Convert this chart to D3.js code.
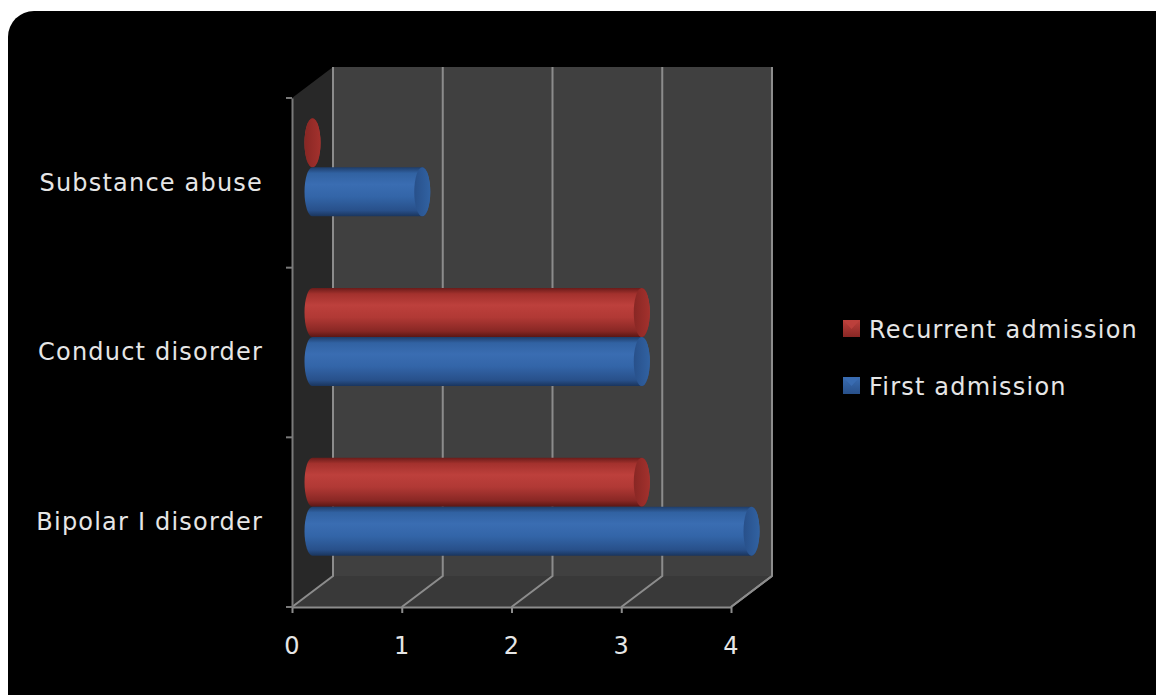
<!DOCTYPE html>
<html>
<head>
<meta charset="utf-8">
<script src="https://cdn.jsdelivr.net/npm/d3@7"></script>
<style>
	body{margin:0;background:#fff;}
	text{font-family:"DejaVu Sans",Verdana,sans-serif;fill:#e6e6e6;letter-spacing:1.2px;}
</style>
</head>
<body>
<div id="chart"></div>
<script>
const categories=['Substance abuse','Conduct disorder','Bipolar I disorder']
const seriesNames=['Recurrent admission','First admission']
const recurrent=[0,3,3]
const first=[1,3,4]
const xTicks=[0,1,2,3,4]

const width=1156,height=695
const plot=({left:292,right:731,top:98,bottom:607})
const dx=41,dy=-31

let svg=d3.select('#chart').append('svg')
	.attr('width',width)
	.attr('height',height)

svg.append('rect')
	.attr('x',8).attr('y',11)
	.attr('width',1175).attr('height',710)
	.attr('rx',26)
	.attr('fill','#000')

let xScale=d3.scaleLinear()
	.domain([0,4])
	.range([plot.left,plot.right])

let yScale=d3.scaleBand()
	.domain(categories)
	.range([plot.top,plot.bottom])

let subScale=d3.scaleBand()
	.domain(seriesNames)
	.range([-49,49])

const colors={
	'Recurrent admission':['#6a1c1a','#a3312d','#bd403c','#b13935','#882724','#5a1715'],
	'First admission':['#1e3d6a','#3162a2','#3a6db2','#3365a8','#28508a','#1a355d']
}

let defs=svg.append('defs')
seriesNames.forEach((s,i)=>{
	let c=colors[s]
	let g=defs.append('linearGradient')
		.attr('id','cyl'+i)
		.attr('x1',0).attr('y1',0).attr('x2',0).attr('y2',1)
	;[0,0.12,0.35,0.6,0.88,1].forEach((o,j)=>g.append('stop').attr('offset',o).attr('stop-color',c[j]))
	let cap=defs.append('linearGradient')
		.attr('id','cap'+i)
		.attr('x1',0).attr('y1',0).attr('x2',1).attr('y2',0)
	cap.append('stop').attr('offset',0).attr('stop-color',c[4])
	cap.append('stop').attr('offset',1).attr('stop-color',c[1])
	let leg=defs.append('linearGradient')
		.attr('id','leg'+i)
		.attr('x1',0).attr('y1',0).attr('x2',0).attr('y2',1)
	leg.append('stop').attr('offset',0).attr('stop-color',c[2])
	leg.append('stop').attr('offset',1).attr('stop-color',c[4])
})

const backTop=plot.top+dy,backBottom=plot.bottom+dy
const x0=xScale(0),x4=xScale(4)

// walls
svg.append('polygon')
	.attr('points',[[x0,plot.top],[x0+dx,backTop],[x0+dx,backBottom],[x0,plot.bottom]].join(' '))
	.attr('fill','#282828')
svg.append('polygon')
	.attr('points',[[x0+dx,backTop],[x4+dx,backTop],[x4+dx,backBottom],[x0+dx,backBottom]].join(' '))
	.attr('fill','#404040')
svg.append('polygon')
	.attr('points',[[x0,plot.bottom],[x0+dx,backBottom],[x4+dx,backBottom],[x4,plot.bottom]].join(' '))
	.attr('fill','#393939')

// gridlines
let grid=svg.append('g')
	.attr('stroke','#8c8c8c')
	.attr('stroke-width',2)
	.attr('fill','none')
grid.selectAll('polyline')
	.data(xTicks)
	.enter()
	.append('polyline')
	.attr('points',d=>[[xScale(d)+dx,backTop],[xScale(d)+dx,backBottom],[xScale(d),plot.bottom]].join(' '))

// cylinders
const rx=8
let bars=[]
categories.forEach((c,i)=>{
	bars.push({cat:c,s:0,v:recurrent[i]})
	bars.push({cat:c,s:1,v:first[i]})
})
let barG=svg.append('g')
	.attr('transform',`translate(${dx/2},${dy/2})`)
let cyl=barG.selectAll('.cyl')
	.data(bars)
	.enter()
	.append('g')
	.attr('class','cyl')
cyl.append('path')
	.attr('fill',d=>'url(#cyl'+d.s+')')
	.attr('d',d=>{
		let yc=yScale(d.cat)+yScale.bandwidth()/2+subScale(seriesNames[d.s])
		let h=subScale.bandwidth(),ry=h/2
		let a=xScale(0),b=xScale(d.v)
		return `M${a},${yc}L${b},${yc}A${rx},${ry} 0 0 1 ${b},${yc+h}L${a},${yc+h}A${rx},${ry} 0 0 1 ${a},${yc}Z`
	})
cyl.append('ellipse')
	.attr('cx',d=>xScale(d.v))
	.attr('cy',d=>yScale(d.cat)+yScale.bandwidth()/2+subScale(seriesNames[d.s])+subScale.bandwidth()/2)
	.attr('rx',rx)
	.attr('ry',subScale.bandwidth()/2)
	.attr('fill',d=>'url(#cap'+d.s+')')

// axes
let xAxis=d3.axisBottom(xScale)
	.tickValues(xTicks)
	.tickFormat(d3.format('d'))
	.tickSize(6)
	.tickSizeOuter(0)
	.tickPadding(24)
let gx=svg.append('g')
	.attr('transform',`translate(0,${plot.bottom})`)
	.call(xAxis)
gx.selectAll('line,path').attr('stroke','#8c8c8c').attr('stroke-width',2)
gx.selectAll('text').style('font-size','24px').attr('fill','#e6e6e6')
svg.append('line')
	.attr('x1',x4).attr('y1',plot.bottom)
	.attr('x2',x4+dx).attr('y2',backBottom)
	.attr('stroke','#8c8c8c').attr('stroke-width',2)

let yAxis=d3.axisLeft(yScale)
	.tickSize(0)
	.tickPadding(29)
let gy=svg.append('g')
	.attr('transform',`translate(${plot.left},0)`)
	.call(yAxis)
gy.select('path').attr('stroke','#7a7a7a').attr('stroke-width',2)
gy.selectAll('text').style('font-size','24px').attr('fill','#e6e6e6')
gy.selectAll('.bound')
	.data(categories.map(c=>yScale(c)).concat([plot.bottom]))
	.enter()
	.append('line')
	.attr('class','bound')
	.attr('x1',-6).attr('x2',0)
	.attr('y1',d=>d).attr('y2',d=>d)
	.attr('stroke','#7a7a7a').attr('stroke-width',2)

// legend
let legend=svg.append('g')
	.attr('transform','translate(843,0)')
let item=legend.selectAll('.item')
	.data(seriesNames)
	.enter()
	.append('g')
	.attr('class','item')
	.attr('transform',(d,i)=>`translate(0,${329+i*57})`)
item.append('rect')
	.attr('x',0).attr('y',-9)
	.attr('width',17).attr('height',17)
	.attr('fill',(d,i)=>'url(#leg'+i+')')
item.append('path')
	.attr('d','M0,-9L17,-9L8.5,0Z')
	.attr('fill',(d,i)=>colors[d][2])
	.attr('opacity',0.9)
item.append('text')
	.attr('x',26)
	.attr('dy','0.36em')
	.style('font-size','24px')
	.text(d=>d)
</script>
</body>
</html>
